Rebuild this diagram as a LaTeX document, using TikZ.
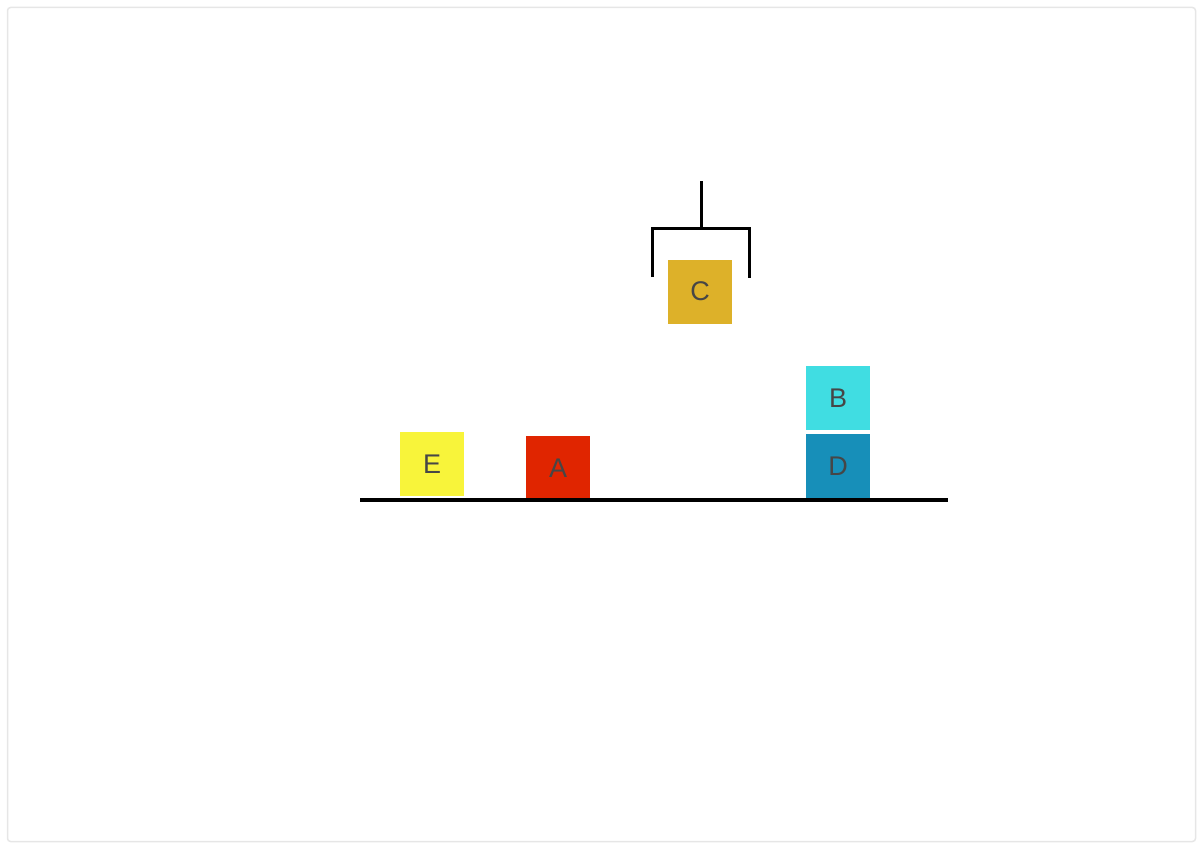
\documentclass[tikz,border=0pt]{standalone}
\usepackage{fontspec}
\setmainfont{Liberation Sans}
\definecolor{framegray}{RGB}{230,230,230}
\definecolor{labelgray}{RGB}{70,70,70}
\definecolor{blockE}{RGB}{248,244,58}
\definecolor{blockA}{RGB}{224,37,0}
\definecolor{blockB}{RGB}{64,221,226}
\definecolor{blockC}{RGB}{221,177,41}
\definecolor{blockD}{RGB}{23,143,185}
\begin{document}
\begin{tikzpicture}[x=1pt,y=-1pt,
    block/.style={minimum size=64pt, inner sep=0pt, text=labelgray,
      font=\fontsize{27}{32}\selectfont},
    arm/.style={line width=3pt}]
  \useasboundingbox (0,0) rectangle (1202,848);
  \draw[framegray, line width=1.5pt, rounded corners=3pt] (7.5,7.5) rectangle (1195.5,841.5);
  % blocks on the table
  \node[block, fill=blockE] (E) at (432,464) {E};
  \node[block, fill=blockA] (A) at (558,468) {A};
  \node[block, fill=blockD] (D) at (838,466) {D};
  \node[block, fill=blockB] (B) at (838,398) {B};
  % held block
  \node[block, fill=blockC] (C) at (700,291.5) {C};
  % table
  \coordinate (tl) at (360,500);
  \coordinate (tr) at (948,500);
  \draw[line width=4pt] (tl) -- (tr);
  % gripper
  \coordinate (top) at (701,181);
  \coordinate (mid) at (701,228);
  \coordinate (hl) at (652,228);
  \coordinate (hr) at (749,228);
  \coordinate (fl) at (652,277);
  \coordinate (fr) at (749,278);
  \draw[arm] (top) -- (mid);
  \draw[arm] (fl) -- (hl) -- (hr) -- (fr);
\end{tikzpicture}
\end{document}
